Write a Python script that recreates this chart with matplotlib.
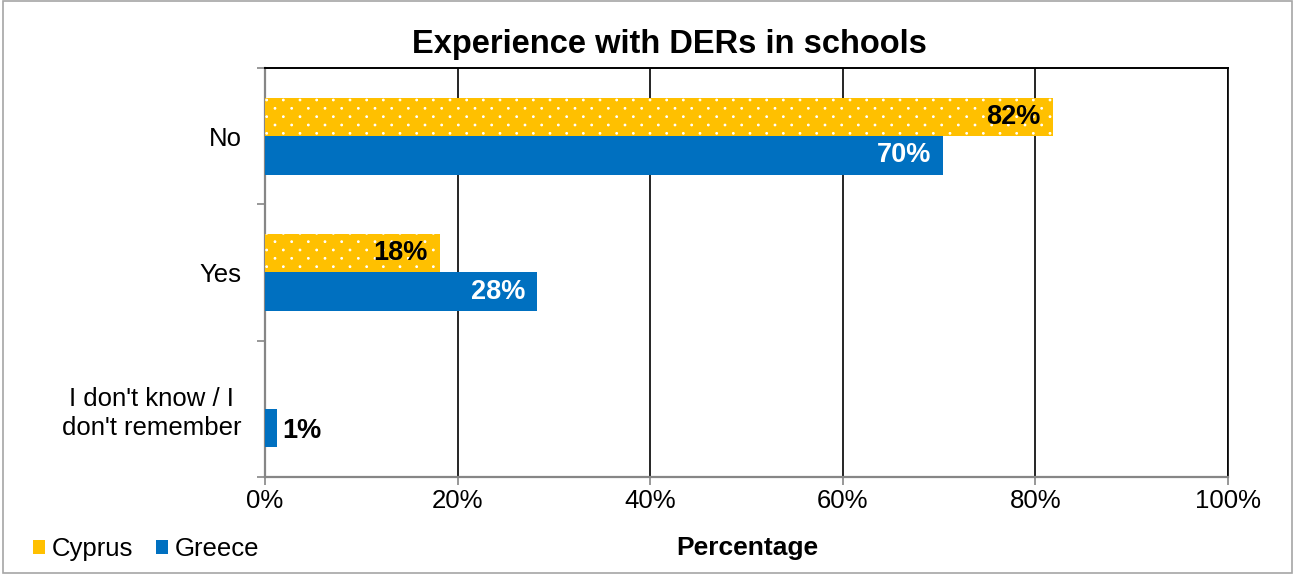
import matplotlib
matplotlib.use("Agg")
import matplotlib.pyplot as plt
import matplotlib.hatch as mhatch
import numpy as np
from matplotlib.path import Path
from matplotlib.patches import Rectangle, Patch

plt.rcParams['font.family'] = ['Liberation Sans', 'DejaVu Sans']
plt.rcParams['hatch.linewidth'] = 0.8

categories = ["No", "Yes", "I don't know / I\ndon't remember"]
cyprus = [81.8, 18.2, 0.0]
greece = [70.4, 28.2, 1.2]
series_names = ["Cyprus", "Greece"]
x_ticks = [0, 20, 40, 60, 80, 100]

CY_COLOR = "#FFC000"
GR_COLOR = "#0070C0"
FS = 18.5


class DotLattice(mhatch.HatchPatternBase):
    """Small dots on a staggered lattice: rows twice as close as the dots in a row."""
    size = 0.05

    def __init__(self, hatch, density):
        self.ncol = hatch.count('.') * density
        self.nrow = 2 * self.ncol
        circle = Path.unit_circle()
        self.shape_vertices = circle.vertices
        self.shape_codes = circle.codes
        if self.ncol:
            n_shapes = sum(self.ncol + 1 if r % 2 == 0 else self.ncol
                           for r in range(self.nrow + 1))
            self.num_vertices = n_shapes * len(self.shape_vertices)
        else:
            self.num_vertices = 0

    def set_vertices_and_codes(self, vertices, codes):
        step = 1.0 / self.ncol
        shape = self.shape_vertices * step * self.size
        n = len(shape)
        cursor = 0
        for r in range(self.nrow + 1):
            if r % 2 == 0:
                cols = np.linspace(0, 1, self.ncol + 1)
            else:
                cols = np.linspace(step / 2, 1 - step / 2, self.ncol)
            ypos = r / self.nrow
            for c in cols:
                vertices[cursor:cursor + n] = shape + (c, ypos)
                codes[cursor:cursor + n] = self.shape_codes
                cursor += n


mhatch._hatch_types[:] = [DotLattice if t is mhatch.SmallFilledCircles else t
                          for t in mhatch._hatch_types]

fig = plt.figure(figsize=(12.95, 5.74), dpi=100)
ax = fig.add_axes([265/1295, 1 - 477/574, (1228 - 265)/1295, (477 - 68)/574])

y = np.arange(len(categories))
h = 0.283

bars_cy = ax.barh(y - h/2, cyprus, height=h, color=CY_COLOR, edgecolor="white",
                  hatch=".", linewidth=0, zorder=3)
bars_gr = ax.barh(y + h/2, greece, height=h, color=GR_COLOR, linewidth=0, zorder=3)

ax.set_xlim(0, 100)
ax.set_ylim(len(categories) - 0.5, -0.5)

# value labels
for bar, v in zip(bars_cy, cyprus):
    if v > 0:
        ax.text(v - 1.3, bar.get_y() + bar.get_height()/2, f"{round(v)}%",
                ha="right", va="center", fontsize=19.5, fontweight="bold",
                color="black", zorder=5)
for bar, v in zip(bars_gr, greece):
    if v >= 5:
        ax.text(v - 1.2, bar.get_y() + bar.get_height()/2, f"{round(v)}%",
                ha="right", va="center", fontsize=19.5, fontweight="bold",
                color="white", zorder=5)
    elif v > 0:
        ax.text(v + 0.6, bar.get_y() + bar.get_height()/2 + 0.02, f"{round(v)}%",
                ha="left", va="center", fontsize=19.5, fontweight="bold",
                color="black", zorder=5)

# gridlines and frame
ax.set_xticks(x_ticks)
ax.set_xticklabels([f"{t}%" for t in x_ticks], fontsize=FS)
ax.xaxis.grid(True, color="black", linewidth=1.2, zorder=1)
ax.set_axisbelow(True)
ax.spines["top"].set_color("black")
ax.spines["top"].set_linewidth(1.4)
ax.spines["right"].set_color("black")
ax.spines["right"].set_linewidth(1.2)
ax.spines["left"].set_color("#868686")
ax.spines["left"].set_linewidth(1.6)
ax.spines["bottom"].set_color("#868686")
ax.spines["bottom"].set_linewidth(1.6)

ax.tick_params(axis="x", length=6, width=1.2, color="#868686", pad=3)
ax.set_yticks(np.arange(-0.5, len(categories), 1.0))
ax.set_yticklabels([])
ax.tick_params(axis="y", which="major", length=6, width=1.2, color="#868686")
ax.set_yticks(y, minor=True)
ax.set_yticklabels(categories, minor=True, fontsize=FS, multialignment="center",
                   linespacing=1.25)
ax.tick_params(axis="y", which="minor", length=0, pad=17)

fig.text(747/1295, 1 - 548/574, "Percentage", ha="center", va="center",
         fontsize=19, fontweight="bold")

fig.text(669/1295, 1 - 44/574, "Experience with DERs in schools",
         ha="center", va="center", fontsize=23.5, fontweight="bold")

# legend
handles = [Patch(facecolor=CY_COLOR, edgecolor="none"),
           Patch(facecolor=GR_COLOR, edgecolor="none")]
fig.legend(handles, series_names, loc="center left",
           bbox_to_anchor=(33/1295, 1 - 549/574), ncol=2, frameon=False,
           fontsize=FS, handlelength=0.47, handleheight=0.47, handletextpad=0.25,
           columnspacing=0.9, borderaxespad=0, borderpad=0)

# chart border
fig.patches.append(Rectangle((0.002, 0.002), 0.996, 0.996, transform=fig.transFigure,
                             fill=False, edgecolor="#A6A6A6", linewidth=1.2))

fig.savefig("out.png", dpi=100)
